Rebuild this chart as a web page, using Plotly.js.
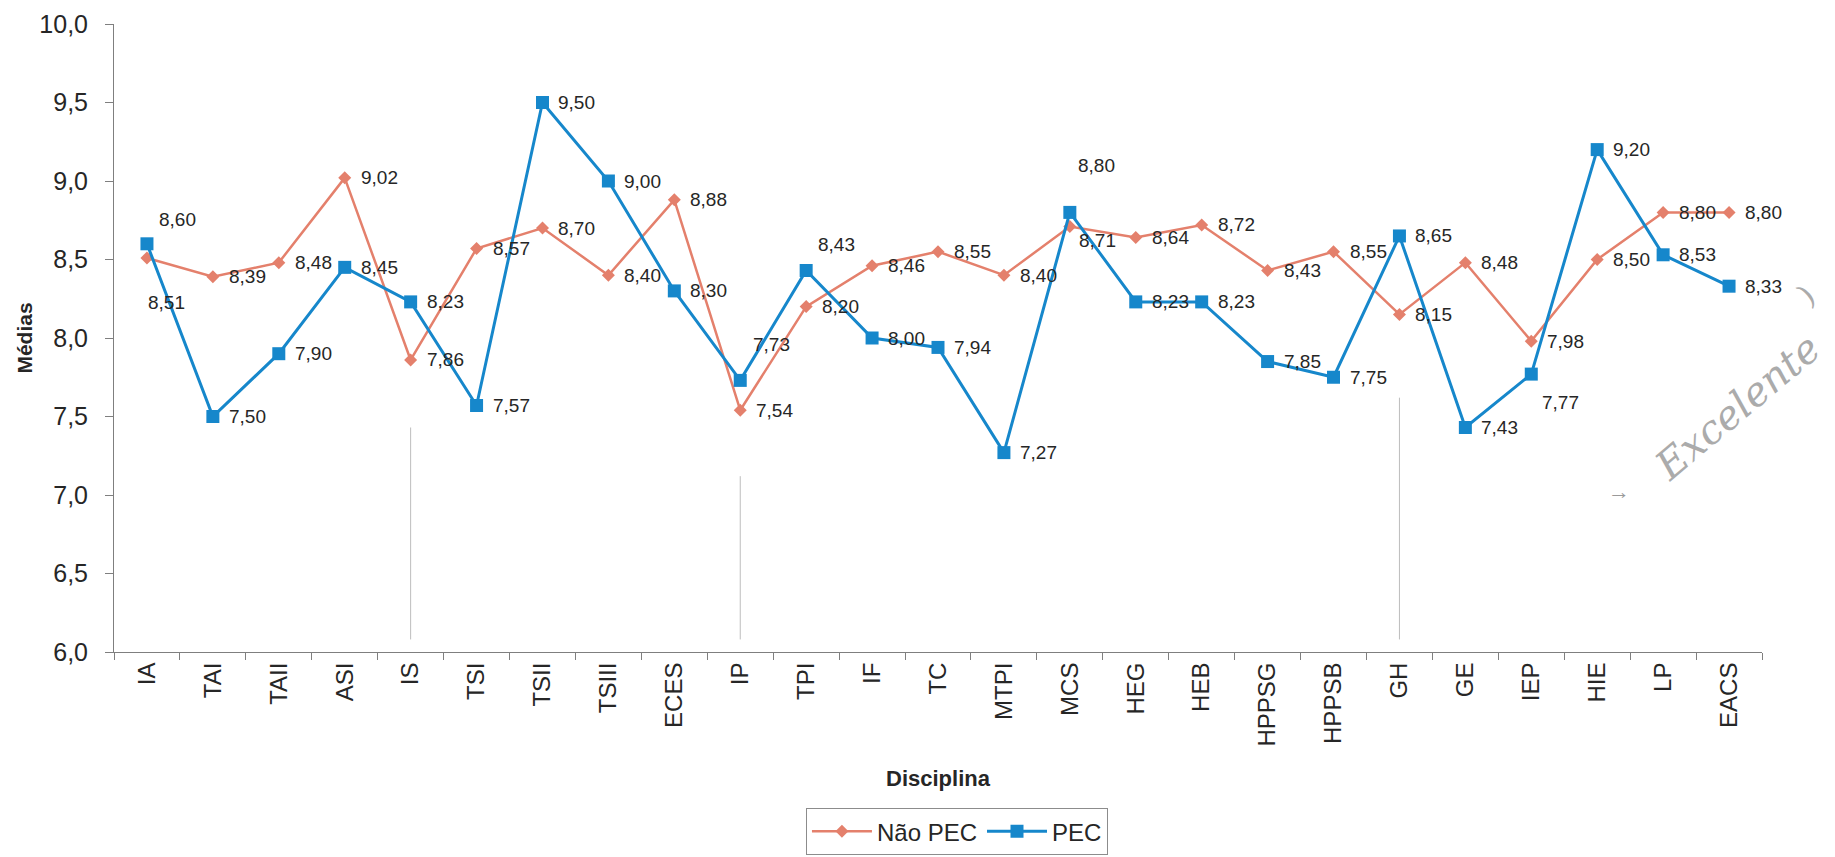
<!DOCTYPE html>
<html>
<head>
<meta charset="utf-8">
<script src="https://cdn.plot.ly/plotly-3.0.1.min.js"></script>
<style>
  html, body { margin: 0; padding: 0; background: #ffffff; }
  #chart { width: 1835px; height: 857px; }
</style>
</head>
<body>
<div id="chart"></div>
<script>
// Disciplines on the horizontal axis
const disciplinas = ['IA', 'TAI', 'TAII', 'ASI', 'IS', 'TSI', 'TSII', 'TSIII', 'ECES', 'IP',
  'TPI', 'IF', 'TC', 'MTPI', 'MCS', 'HEG', 'HEB', 'HPPSG', 'HPPSB', 'GH',
  'GE', 'IEP', 'HIE', 'LP', 'EACS'];

// Average grades per discipline
const naoPEC = [8.51, 8.39, 8.48, 9.02, 7.86, 8.57, 8.70, 8.40, 8.88, 7.54,
  8.20, 8.46, 8.55, 8.40, 8.71, 8.64, 8.72, 8.43, 8.55, 8.15,
  8.48, 7.98, 8.50, 8.80, 8.80];
const pec = [8.60, 7.50, 7.90, 8.45, 8.23, 7.57, 9.50, 9.00, 8.30, 7.73,
  8.43, 8.00, 7.94, 7.27, 8.80, 8.23, 8.23, 7.85, 7.75, 8.65,
  7.43, 7.77, 9.20, 8.53, 8.33];

// Y axis ticks
const yTicks = [6.0, 6.5, 7.0, 7.5, 8.0, 8.5, 9.0, 9.5, 10.0];

const corNao = '#E4806C';
const corPec = '#1687CB';
const fonte = '"Liberation Sans", Arial, sans-serif';

// Data labels sit to the right of each point; a few are nudged (dx, dy in px, dy up)
const ajusteNao = { 'IA': [-1, -45], 'MCS': [7, -14] };
const ajustePec = { 'IA': [10, 24], 'IP': [11, 36], 'TPI': [10, 26], 'MCS': [6, 47], 'IEP': [9, -28] };

function rotulo(v) { return v.toFixed(2).replace('.', ','); }

const anotacoes = [];
function addRotulos(vals, ajuste) {
  vals.forEach((v, i) => {
    const cat = disciplinas[i];
    const a = ajuste[cat] || [14, 0];
    anotacoes.push({
      x: cat, y: v, xref: 'x', yref: 'y',
      text: rotulo(v), showarrow: false,
      xanchor: 'left', yanchor: 'middle',
      xshift: a[0], yshift: a[1],
      font: { family: fonte, size: 19, color: '#262626' }
    });
  });
}
addRotulos(naoPEC, ajusteNao);
addRotulos(pec, ajustePec);

// Pencil notes written on the printed page
const lapis = '#ababab';
anotacoes.push({
  x: 0.985, y: 0.39, xref: 'paper', yref: 'paper',
  xanchor: 'center', yanchor: 'middle',
  text: 'Excelente', showarrow: false, textangle: -40,
  font: { family: '"DejaVu Serif", serif', size: 40, color: lapis, style: 'italic' }
});
anotacoes.push({
  x: 1.027, y: 0.57, xref: 'paper', yref: 'paper',
  xanchor: 'center', yanchor: 'middle',
  text: ')', showarrow: false, textangle: -39,
  font: { family: '"DejaVu Serif", serif', size: 30, color: lapis }
});
anotacoes.push({
  x: 0.913, y: 0.256, xref: 'paper', yref: 'paper',
  xanchor: 'center', yanchor: 'middle',
  text: '→', showarrow: false,
  font: { family: fonte, size: 22, color: '#9a9a9a' }
});

const linhasLapis = [
  { cat: 'IS', y0: 6.08, y1: 7.43 },
  { cat: 'IP', y0: 6.08, y1: 7.12 },
  { cat: 'GH', y0: 6.08, y1: 7.62 }
];
const shapes = linhasLapis.map(l => ({
  type: 'line', xref: 'x', yref: 'y',
  x0: l.cat, x1: l.cat, y0: l.y0, y1: l.y1,
  line: { color: '#bdbdbd', width: 1 }
}));

const traces = [
  {
    x: disciplinas, y: naoPEC, name: 'Não PEC', type: 'scatter', mode: 'lines+markers',
    line: { color: corNao, width: 2.5 },
    marker: { symbol: 'diamond', size: 10, color: corNao }
  },
  {
    x: disciplinas, y: pec, name: 'PEC', type: 'scatter', mode: 'lines+markers',
    line: { color: corPec, width: 3 },
    marker: { symbol: 'square', size: 13, color: corPec }
  }
];

const layout = {
  width: 1835, height: 857,
  paper_bgcolor: '#ffffff', plot_bgcolor: '#ffffff',
  margin: { l: 114, r: 73, t: 24, b: 205, autoexpand: false },
  separators: ',.',
  showlegend: true,
  font: { family: fonte, color: '#262626' },
  xaxis: {
    type: 'category',
    range: [-0.5, 24.5],
    automargin: false,
    showline: true, linecolor: '#7f7f7f', linewidth: 1,
    showgrid: false, zeroline: false,
    ticks: 'outside', tickson: 'boundaries', ticklen: 7, tickcolor: '#7f7f7f',
    tickangle: -90,
    tickfont: { family: fonte, size: 24, color: '#262626' },
    title: { text: '<b>Disciplina</b>', standoff: 24, font: { family: fonte, size: 22, color: '#262626' } }
  },
  yaxis: {
    range: [6, 10],
    automargin: false,
    tickvals: yTicks,
    tickformat: '.1f',
    showline: true, linecolor: '#7f7f7f', linewidth: 1,
    showgrid: false, zeroline: false,
    ticks: 'outside', ticklen: 8, tickcolor: '#7f7f7f',
    ticklabelstandoff: 12,
    tickfont: { family: fonte, size: 25, color: '#262626' },
    title: { text: '<b>Médias</b>', standoff: 0, font: { family: fonte, size: 21, color: '#262626' } }
  },
  legend: {
    orientation: 'h',
    x: 0.5115, xanchor: 'center',
    y: -0.3235, yanchor: 'bottom',
    bordercolor: '#8c8c8c', borderwidth: 1,
    font: { family: fonte, size: 24, color: '#262626' },
    itemwidth: 60
  },
  annotations: anotacoes,
  shapes: shapes
};

Plotly.newPlot('chart', traces, layout, { displayModeBar: false, staticPlot: true });
</script>
</body>
</html>
